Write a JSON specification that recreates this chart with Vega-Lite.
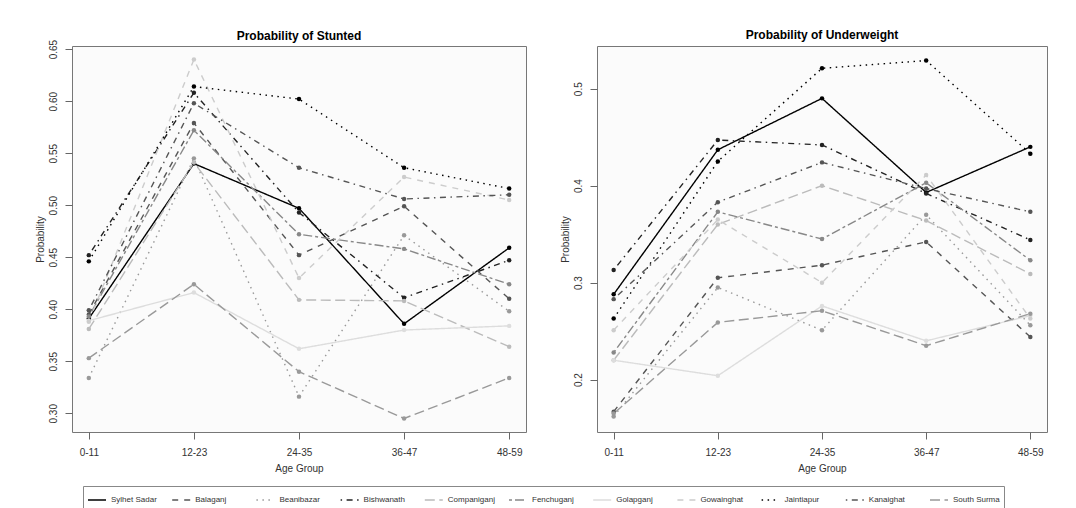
{
 "$schema": "https://vega.github.io/schema/vega-lite/v6.json",
 "background": "#ffffff",
 "padding": {"left": 34, "top": 28, "right": 10, "bottom": 4},
 "config": {
  "font": "Liberation Sans",
  "view": {"stroke": "#777777", "strokeWidth": 1, "fill": "#fbfbfb"},
  "axis": {"grid": false, "domain": false, "tickColor": "#666666", "tickSize": 7, "labelFontSize": 10, "labelColor": "#333333", "titleFontSize": 10, "titleFontWeight": "normal", "titleColor": "#333333"},
  "title": {"fontSize": 12, "fontWeight": "bold", "color": "#000000"}
 },
 "datasets": {
  "d": [
   {"panel":"Stunted","district":"Sylhet Sadar","age":"0-11","prob":0.391},
   {"panel":"Stunted","district":"Sylhet Sadar","age":"12-23","prob":0.540},
   {"panel":"Stunted","district":"Sylhet Sadar","age":"24-35","prob":0.497},
   {"panel":"Stunted","district":"Sylhet Sadar","age":"36-47","prob":0.386},
   {"panel":"Stunted","district":"Sylhet Sadar","age":"48-59","prob":0.459},
   {"panel":"Stunted","district":"Balaganj","age":"0-11","prob":0.395},
   {"panel":"Stunted","district":"Balaganj","age":"12-23","prob":0.579},
   {"panel":"Stunted","district":"Balaganj","age":"24-35","prob":0.452},
   {"panel":"Stunted","district":"Balaganj","age":"36-47","prob":0.499},
   {"panel":"Stunted","district":"Balaganj","age":"48-59","prob":0.410},
   {"panel":"Stunted","district":"Beanibazar","age":"0-11","prob":0.334},
   {"panel":"Stunted","district":"Beanibazar","age":"12-23","prob":0.545},
   {"panel":"Stunted","district":"Beanibazar","age":"24-35","prob":0.316},
   {"panel":"Stunted","district":"Beanibazar","age":"36-47","prob":0.471},
   {"panel":"Stunted","district":"Beanibazar","age":"48-59","prob":0.398},
   {"panel":"Stunted","district":"Bishwanath","age":"0-11","prob":0.452},
   {"panel":"Stunted","district":"Bishwanath","age":"12-23","prob":0.608},
   {"panel":"Stunted","district":"Bishwanath","age":"24-35","prob":0.493},
   {"panel":"Stunted","district":"Bishwanath","age":"36-47","prob":0.411},
   {"panel":"Stunted","district":"Bishwanath","age":"48-59","prob":0.447},
   {"panel":"Stunted","district":"Companiganj","age":"0-11","prob":0.381},
   {"panel":"Stunted","district":"Companiganj","age":"12-23","prob":0.541},
   {"panel":"Stunted","district":"Companiganj","age":"24-35","prob":0.409},
   {"panel":"Stunted","district":"Companiganj","age":"36-47","prob":0.408},
   {"panel":"Stunted","district":"Companiganj","age":"48-59","prob":0.364},
   {"panel":"Stunted","district":"Fenchuganj","age":"0-11","prob":0.393},
   {"panel":"Stunted","district":"Fenchuganj","age":"12-23","prob":0.572},
   {"panel":"Stunted","district":"Fenchuganj","age":"24-35","prob":0.472},
   {"panel":"Stunted","district":"Fenchuganj","age":"36-47","prob":0.458},
   {"panel":"Stunted","district":"Fenchuganj","age":"48-59","prob":0.424},
   {"panel":"Stunted","district":"Golapganj","age":"0-11","prob":0.389},
   {"panel":"Stunted","district":"Golapganj","age":"12-23","prob":0.416},
   {"panel":"Stunted","district":"Golapganj","age":"24-35","prob":0.362},
   {"panel":"Stunted","district":"Golapganj","age":"36-47","prob":0.380},
   {"panel":"Stunted","district":"Golapganj","age":"48-59","prob":0.384},
   {"panel":"Stunted","district":"Gowainghat","age":"0-11","prob":0.388},
   {"panel":"Stunted","district":"Gowainghat","age":"12-23","prob":0.640},
   {"panel":"Stunted","district":"Gowainghat","age":"24-35","prob":0.430},
   {"panel":"Stunted","district":"Gowainghat","age":"36-47","prob":0.527},
   {"panel":"Stunted","district":"Gowainghat","age":"48-59","prob":0.505},
   {"panel":"Stunted","district":"Jaintiapur","age":"0-11","prob":0.446},
   {"panel":"Stunted","district":"Jaintiapur","age":"12-23","prob":0.614},
   {"panel":"Stunted","district":"Jaintiapur","age":"24-35","prob":0.602},
   {"panel":"Stunted","district":"Jaintiapur","age":"36-47","prob":0.536},
   {"panel":"Stunted","district":"Jaintiapur","age":"48-59","prob":0.516},
   {"panel":"Stunted","district":"Kanaighat","age":"0-11","prob":0.399},
   {"panel":"Stunted","district":"Kanaighat","age":"12-23","prob":0.598},
   {"panel":"Stunted","district":"Kanaighat","age":"24-35","prob":0.536},
   {"panel":"Stunted","district":"Kanaighat","age":"36-47","prob":0.506},
   {"panel":"Stunted","district":"Kanaighat","age":"48-59","prob":0.510},
   {"panel":"Stunted","district":"South Surma","age":"0-11","prob":0.353},
   {"panel":"Stunted","district":"South Surma","age":"12-23","prob":0.424},
   {"panel":"Stunted","district":"South Surma","age":"24-35","prob":0.340},
   {"panel":"Stunted","district":"South Surma","age":"36-47","prob":0.295},
   {"panel":"Stunted","district":"South Surma","age":"48-59","prob":0.334},
   {"panel":"Underweight","district":"Sylhet Sadar","age":"0-11","prob":0.288},
   {"panel":"Underweight","district":"Sylhet Sadar","age":"12-23","prob":0.437},
   {"panel":"Underweight","district":"Sylhet Sadar","age":"24-35","prob":0.490},
   {"panel":"Underweight","district":"Sylhet Sadar","age":"36-47","prob":0.393},
   {"panel":"Underweight","district":"Sylhet Sadar","age":"48-59","prob":0.440},
   {"panel":"Underweight","district":"Balaganj","age":"0-11","prob":0.167},
   {"panel":"Underweight","district":"Balaganj","age":"12-23","prob":0.305},
   {"panel":"Underweight","district":"Balaganj","age":"24-35","prob":0.318},
   {"panel":"Underweight","district":"Balaganj","age":"36-47","prob":0.342},
   {"panel":"Underweight","district":"Balaganj","age":"48-59","prob":0.244},
   {"panel":"Underweight","district":"Beanibazar","age":"0-11","prob":0.162},
   {"panel":"Underweight","district":"Beanibazar","age":"12-23","prob":0.295},
   {"panel":"Underweight","district":"Beanibazar","age":"24-35","prob":0.251},
   {"panel":"Underweight","district":"Beanibazar","age":"36-47","prob":0.370},
   {"panel":"Underweight","district":"Beanibazar","age":"48-59","prob":0.256},
   {"panel":"Underweight","district":"Bishwanath","age":"0-11","prob":0.313},
   {"panel":"Underweight","district":"Bishwanath","age":"12-23","prob":0.447},
   {"panel":"Underweight","district":"Bishwanath","age":"24-35","prob":0.442},
   {"panel":"Underweight","district":"Bishwanath","age":"36-47","prob":0.392},
   {"panel":"Underweight","district":"Bishwanath","age":"48-59","prob":0.344},
   {"panel":"Underweight","district":"Companiganj","age":"0-11","prob":0.220},
   {"panel":"Underweight","district":"Companiganj","age":"12-23","prob":0.360},
   {"panel":"Underweight","district":"Companiganj","age":"24-35","prob":0.400},
   {"panel":"Underweight","district":"Companiganj","age":"36-47","prob":0.364},
   {"panel":"Underweight","district":"Companiganj","age":"48-59","prob":0.309},
   {"panel":"Underweight","district":"Fenchuganj","age":"0-11","prob":0.228},
   {"panel":"Underweight","district":"Fenchuganj","age":"12-23","prob":0.373},
   {"panel":"Underweight","district":"Fenchuganj","age":"24-35","prob":0.345},
   {"panel":"Underweight","district":"Fenchuganj","age":"36-47","prob":0.403},
   {"panel":"Underweight","district":"Fenchuganj","age":"48-59","prob":0.323},
   {"panel":"Underweight","district":"Golapganj","age":"0-11","prob":0.220},
   {"panel":"Underweight","district":"Golapganj","age":"12-23","prob":0.204},
   {"panel":"Underweight","district":"Golapganj","age":"24-35","prob":0.276},
   {"panel":"Underweight","district":"Golapganj","age":"36-47","prob":0.240},
   {"panel":"Underweight","district":"Golapganj","age":"48-59","prob":0.266},
   {"panel":"Underweight","district":"Gowainghat","age":"0-11","prob":0.251},
   {"panel":"Underweight","district":"Gowainghat","age":"12-23","prob":0.365},
   {"panel":"Underweight","district":"Gowainghat","age":"24-35","prob":0.300},
   {"panel":"Underweight","district":"Gowainghat","age":"36-47","prob":0.411},
   {"panel":"Underweight","district":"Gowainghat","age":"48-59","prob":0.263},
   {"panel":"Underweight","district":"Jaintiapur","age":"0-11","prob":0.263},
   {"panel":"Underweight","district":"Jaintiapur","age":"12-23","prob":0.425},
   {"panel":"Underweight","district":"Jaintiapur","age":"24-35","prob":0.521},
   {"panel":"Underweight","district":"Jaintiapur","age":"36-47","prob":0.529},
   {"panel":"Underweight","district":"Jaintiapur","age":"48-59","prob":0.433},
   {"panel":"Underweight","district":"Kanaighat","age":"0-11","prob":0.283},
   {"panel":"Underweight","district":"Kanaighat","age":"12-23","prob":0.383},
   {"panel":"Underweight","district":"Kanaighat","age":"24-35","prob":0.424},
   {"panel":"Underweight","district":"Kanaighat","age":"36-47","prob":0.397},
   {"panel":"Underweight","district":"Kanaighat","age":"48-59","prob":0.373},
   {"panel":"Underweight","district":"South Surma","age":"0-11","prob":0.165},
   {"panel":"Underweight","district":"South Surma","age":"12-23","prob":0.259},
   {"panel":"Underweight","district":"South Surma","age":"24-35","prob":0.271},
   {"panel":"Underweight","district":"South Surma","age":"36-47","prob":0.235},
   {"panel":"Underweight","district":"South Surma","age":"48-59","prob":0.268}
  ]
 },
 "spacing": 32,
 "resolve": {"scale": {"y": "independent", "color": "shared", "strokeDash": "shared"}},
 "hconcat": [
  {
   "title": {"text": "Probability of Stunted", "offset": -4},
   "width": 454, "height": 386,
   "data": {"name": "d"},
   "transform": [{"filter": "datum.panel == 'Stunted'"}],
   "encoding": {
    "x": {"field": "age", "type": "ordinal", "sort": ["0-11","12-23","24-35","36-47","48-59"], "scale": {"type": "point", "padding": 0.16},
          "axis": {"labelAngle": 0, "title": "Age Group", "labelPadding": 8, "titlePadding": 6}},
    "y": {"field": "prob", "type": "quantitative", "scale": {"domain": [0.282, 0.653], "nice": false, "zero": false},
          "axis": {"values": [0.30,0.35,0.40,0.45,0.50,0.55,0.60,0.65], "format": ".2f", "labelAngle": -90, "labelAlign": "center", "labelBaseline": "bottom", "labelPadding": 7, "title": "Probability", "titlePadding": 3}},
    "color": {"field": "district", "type": "nominal", "title": null,
      "scale": {"domain": ["Sylhet Sadar","Balaganj","Beanibazar","Bishwanath","Companiganj","Fenchuganj","Golapganj","Gowainghat","Jaintiapur","Kanaighat","South Surma"],
                "range": ["#000000","#555555","#999999","#222222","#bbbbbb","#888888","#dddddd","#cccccc","#000000","#555555","#999999"]},
      "legend": {"orient": "none", "legendX": 11, "legendY": 440, "direction": "horizontal", "columns": 11, "gridAlign": "all", "symbolType": "stroke", "symbolStrokeWidth": 1.5, "symbolSize": 324, "labelFontSize": 8, "labelColor": "#333333", "columnPadding": 10.2, "strokeColor": "#888888", "padding": 4, "labelLimit": 120}}
   },
   "layer": [
    {"mark": {"type": "line", "strokeWidth": 1.4},
     "encoding": {"strokeDash": {"field": "district", "type": "nominal", "title": null,
       "scale": {"domain": ["Sylhet Sadar","Balaganj","Beanibazar","Bishwanath","Companiganj","Fenchuganj","Golapganj","Gowainghat","Jaintiapur","Kanaighat","South Surma"],
                 "range": [[1,0],[6,6],[1.5,4.5],[1.5,4.5,6,4.5],[10,4.5],[3,3,9,3],[1,0],[6,6],[1.5,4.5],[1.5,4.5,6,4.5],[10,4.5]]}}}},
    {"mark": {"type": "point", "filled": true, "size": 20, "opacity": 1}}
   ]
  },
  {
   "title": {"text": "Probability of Underweight", "offset": 4},
   "width": 450, "height": 386,
   "data": {"name": "d"},
   "transform": [{"filter": "datum.panel == 'Underweight'"}],
   "encoding": {
    "x": {"field": "age", "type": "ordinal", "sort": ["0-11","12-23","24-35","36-47","48-59"], "scale": {"type": "point", "padding": 0.16},
          "axis": {"labelAngle": 0, "title": "Age Group", "labelPadding": 8, "titlePadding": 6}},
    "y": {"field": "prob", "type": "quantitative", "scale": {"domain": [0.146, 0.544], "nice": false, "zero": false},
          "axis": {"values": [0.2,0.3,0.4,0.5], "format": ".1f", "labelAngle": -90, "labelAlign": "center", "labelBaseline": "bottom", "labelPadding": 7, "title": "Probability", "titlePadding": 3}},
    "color": {"field": "district", "type": "nominal", "title": null}
   },
   "layer": [
    {"mark": {"type": "line", "strokeWidth": 1.4},
     "encoding": {"strokeDash": {"field": "district", "type": "nominal", "title": null}}},
    {"mark": {"type": "point", "filled": true, "size": 20, "opacity": 1}}
   ]
  }
 ]
}
